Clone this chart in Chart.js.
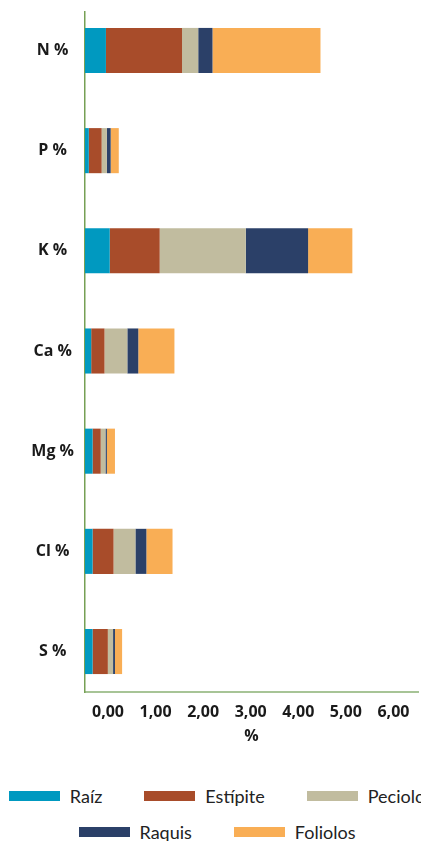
<!DOCTYPE html>
<html>
<head>
<meta charset="utf-8">
<script src="https://cdn.jsdelivr.net/npm/chart.js@4/dist/chart.umd.min.js"></script>
<style>
  html, body { margin: 0; padding: 0; background: #fff; overflow: hidden; }
  #wrap { position: relative; width: 421px; height: 841px; }
  #chartBox { position: absolute; left: 0; top: 0; width: 421px; height: 760px; }
  #legend { position: absolute; left: 0; top: 785px; width: 434px; display: flex; flex-wrap: wrap; justify-content: center; column-gap: 42px; row-gap: 14px;
    font-family: Lato, "Open Sans", sans-serif; font-size: 18px; color: #222; white-space: nowrap; }
  .item { display: flex; align-items: center; height: 22px; }
  .box { width: 51px; height: 10px; margin-right: 10px; }
</style>
</head>
<body>
<div id="wrap">
  <div id="chartBox"><canvas id="chart"></canvas></div>
  <div id="legend"></div>
</div>
<script>
// categories and series (percent)
const categories = ['N %', 'P %', 'K %', 'Ca %', 'Mg %', 'Cl %', 'S %'];
const raiz      = [0.44, 0.08, 0.52, 0.13, 0.16, 0.16, 0.16];
const estipite  = [1.60, 0.27, 1.05, 0.28, 0.17, 0.44, 0.32];
const peciolo   = [0.34, 0.11, 1.81, 0.48, 0.10, 0.46, 0.11];
const raquis    = [0.30, 0.08, 1.31, 0.23, 0.03, 0.23, 0.04];
const foliolos  = [2.27, 0.17, 0.93, 0.76, 0.17, 0.55, 0.15];
const xTicks = [0, 1, 2, 3, 4, 5, 6];

function mk(label, vals, color) {
  return { label, data: vals.map((v, i) => ({ x: v, y: i })), backgroundColor: color, borderWidth: 0,
    categoryPercentage: 0.5, barPercentage: 0.9 };
}

const labelFont = { family: '"Open Sans", sans-serif', size: 16, weight: 'bold' };

const chart = new Chart(document.getElementById('chart'), {
  type: 'bar',
  data: {
    datasets: [
      mk('Raíz', raiz, '#0099c0'),
      mk('Estípite', estipite, '#a84c2a'),
      mk('Peciolo', peciolo, '#c1bc9f'),
      mk('Raquis', raquis, '#2b4068'),
      mk('Foliolos', foliolos, '#f9ae55')
    ]
  },
  options: {
    indexAxis: 'y',
    responsive: true,
    maintainAspectRatio: false,
    animation: false,
    layout: { padding: { top: 12, right: 3, left: 0, bottom: 0 } },
    plugins: { legend: { display: false }, tooltip: { enabled: false } },
    scales: {
      x: {
        type: 'linear', stacked: true, min: 0, max: 7, bounds: 'data',
        grid: { display: false, drawTicks: false },
        border: { display: true, color: '#a7c496', width: 2 },
        afterBuildTicks: (s) => { s.ticks = xTicks.concat([7]).map(v => ({ value: v })); },
        afterFit: (s) => { s.height = 68; s.paddingLeft = 0; s.paddingRight = 0; },
        ticks: {
          color: '#1a1a1a', font: labelFont, padding: 11, labelOffset: 23, maxRotation: 0,
          callback: (v) => xTicks.includes(v) ? v.toFixed(2).replace('.', ',') : ''
        },
        title: { display: true, text: '%', color: '#1a1a1a', font: labelFont, padding: { top: 0, bottom: 14 } }
      },
      y: {
        type: 'linear', stacked: true, reverse: true, min: -0.384, max: 6.404, bounds: 'data', offset: false,
        grid: { display: false, drawTicks: false, offset: false },
        border: { display: true, color: '#76a055', width: 1.5 },
        afterBuildTicks: (s) => { s.ticks = categories.map((c, i) => ({ value: i })); },
        afterFit: (s) => { s.width = 85; s.paddingTop = 0; s.paddingBottom = 0; },
        ticks: {
          color: '#1a1a1a', font: labelFont, padding: 11, crossAlign: 'center',
          callback: (v) => categories[v] ?? ''
        }
      }
    }
  }
});

// html legend built from the chart datasets
const legend = document.getElementById('legend');
for (const ds of chart.data.datasets) {
  const it = document.createElement('div');
  it.className = 'item';
  it.innerHTML = `<span class="box" style="background:${ds.backgroundColor}"></span><span>${ds.label}</span>`;
  legend.appendChild(it);
}
</script>
</body>
</html>
